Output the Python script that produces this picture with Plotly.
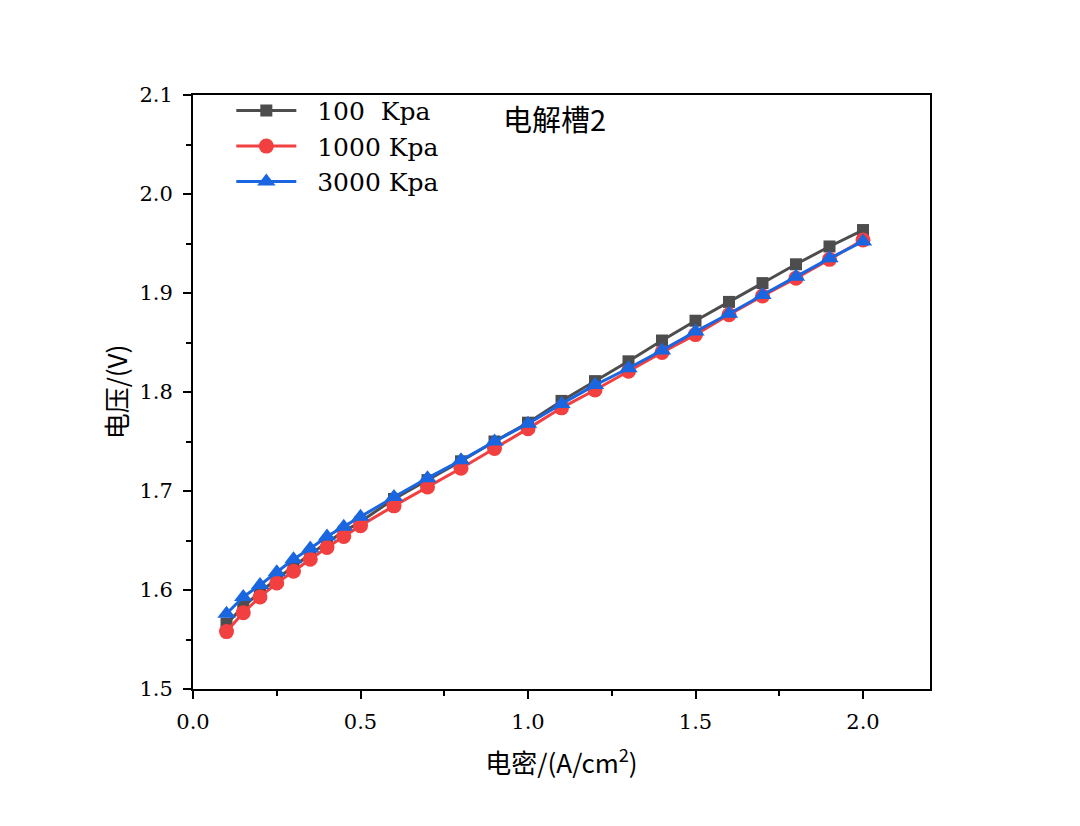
import plotly.graph_objects as go

current_density = [0.1, 0.15, 0.2, 0.25, 0.3, 0.35, 0.4, 0.45, 0.5, 0.6, 0.7, 0.8, 0.9,
                   1.0, 1.1, 1.2, 1.3, 1.4, 1.5, 1.6, 1.7, 1.8, 1.9, 2.0]
v_100 = [1.566, 1.583, 1.598, 1.611, 1.624, 1.636, 1.648, 1.659, 1.669, 1.692, 1.711, 1.730, 1.750,
         1.769, 1.791, 1.811, 1.831, 1.852, 1.872, 1.891, 1.910, 1.929, 1.947, 1.9636]
v_1000 = [1.558, 1.577, 1.593, 1.607, 1.619, 1.631, 1.643, 1.654, 1.665, 1.685, 1.704, 1.723, 1.743,
          1.763, 1.784, 1.802, 1.821, 1.840, 1.858, 1.878, 1.897, 1.915, 1.934, 1.9535]
v_3000 = [1.576, 1.593, 1.605, 1.618, 1.631, 1.642, 1.654, 1.664, 1.674, 1.694, 1.713, 1.731, 1.750,
          1.768, 1.788, 1.807, 1.824, 1.842, 1.861, 1.879, 1.898, 1.9165, 1.935, 1.952]
series_names = ["100  Kpa", "1000 Kpa", "3000 Kpa"]
x_ticks = [0.0, 0.5, 1.0, 1.5, 2.0]
y_ticks = [1.5, 1.6, 1.7, 1.8, 1.9, 2.0, 2.1]

FONT = "DejaVu Serif, Noto Sans CJK SC"
CJK = "Noto Sans CJK SC, DejaVu Serif"
styles = [
    dict(color="#4d4d4d", symbol="square", size=12),
    dict(color="#f23f3f", symbol="circle", size=15),
    dict(color="#1a66e0", symbol="triangle-up", size=16),
]

fig = go.Figure()
for name, ys, st in zip(series_names, [v_100, v_1000, v_3000], styles):
    fig.add_trace(go.Scatter(
        x=current_density, y=ys, name="\u00a0\u00a0" + name, mode="lines+markers",
        line=dict(color=st["color"], width=3),
        marker=dict(symbol=st["symbol"], size=st["size"], color=st["color"],
                    line=dict(width=0)),
    ))

axis_common = dict(
    showline=True, linecolor="black", linewidth=2, mirror=True,
    ticks="outside", ticklen=8, tickwidth=2, tickcolor="black",
    showgrid=False, zeroline=False, automargin=False,
    tickfont=dict(family=FONT, size=21, color="black"),
)
fig.update_xaxes(range=[0, 2.2], tickvals=x_ticks, ticktext=[f"{v:.1f}" for v in x_ticks],
                 ticklabelstandoff=5,
                 minor=dict(dtick=0.25, tick0=0, ticks="outside", ticklen=5, tickwidth=2, tickcolor="black"),
                 title=dict(text="电密/(A/cm<sup>2</sup>)", font=dict(family=CJK, size=26, color="black"), standoff=22),
                 **axis_common)
fig.update_yaxes(range=[1.5, 2.1], tickvals=y_ticks, ticktext=[f"{v:.1f}" for v in y_ticks],
                 ticklabelstandoff=6,
                 minor=dict(dtick=0.05, tick0=1.5, ticks="outside", ticklen=5, tickwidth=2, tickcolor="black"),
                 title=dict(text="电压/(V)", font=dict(family=CJK, size=26, color="black"), standoff=4),
                 **axis_common)

fig.add_annotation(text="电解槽2", xref="paper", yref="paper", x=0.418, y=(689 - 118) / 594,
                   xanchor="left", yanchor="middle", showarrow=False,
                   font=dict(family=CJK, size=29, color="black"))

fig.update_layout(
    width=1080, height=826,
    margin=dict(l=185, r=158, t=87, b=145),
    paper_bgcolor="white", plot_bgcolor="white",
    legend=dict(x=0.052, y=1.012, xanchor="left", yanchor="top", bgcolor="rgba(0,0,0,0)",
                itemwidth=60,
                font=dict(family=FONT, size=25, color="black"), tracegroupgap=0),
    showlegend=True,
)
fig.write_html("out.html")
